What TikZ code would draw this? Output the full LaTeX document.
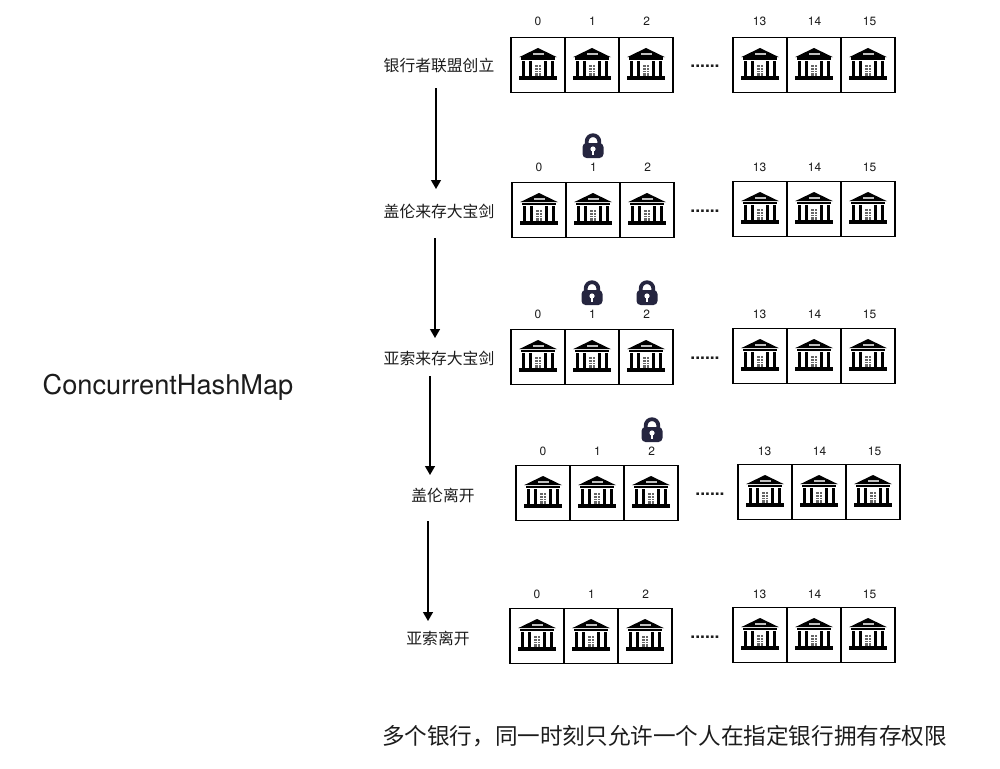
\documentclass[tikz,border=0pt]{standalone}
\usepackage{fontspec}
\usetikzlibrary{arrows.meta}
\setmainfont{TeX Gyre Heros}
\newfontfamily\cjk{Noto Sans CJK SC}
\definecolor{lockblue}{HTML}{25253F}
\definecolor{txt}{HTML}{1C1C1C}
\tikzset{
  x=1pt,y=-1pt,
  cellbox/.style={draw=black,line width=1.3pt,minimum width=54pt,minimum height=55pt,inner sep=0pt,anchor=center},
  idx/.style={font=\fontsize{12}{12}\selectfont,text=txt,inner sep=0pt,anchor=base},
  steplabel/.style={font=\cjk\fontsize{15.8}{17}\selectfont,text=txt,inner sep=1pt},
  flow/.style={draw=black,line width=1.3pt,-{Triangle[length=9pt,width=10pt]}},
  dotrow/.style={font=\fontsize{17.5}{15}\selectfont\bfseries,text=txt,inner sep=0pt,anchor=base},
  pics/bank/.style={code={
    \fill[black] (-19,-6.8) -- (0,-16) -- (19,-6.8) -- cycle;
    \fill[white!75!black] (-5.5,-11) rectangle (5.5,-9);
    \fill[black] (-17,-6.5) rectangle (17,-4);
    \foreach \c in {-14.5,-7.5,7.5,14.5} {\fill[black] (\c-1.8,-3.5) rectangle (\c+1.8,12);}
    \fill[black!60] (-3.4,1) rectangle (3.4,12);
    \foreach \yy in {3.5,6,8.5} {\draw[white,line width=.4pt] (-3.4,\yy) -- (3.4,\yy);}
    \draw[white,line width=.4pt] (0,1) -- (0,12);
    \fill[black] (-19,12) rectangle (19,15.5);
  }},
  pics/padlock/.style={code={
    \draw[lockblue,line width=3.8pt] (-6.3,0) -- (-6.3,-4.5) arc[start angle=180,end angle=360,radius=6.3] -- (6.3,0);
    \fill[lockblue,rounded corners=4pt] (-10.5,-3) rectangle (10.5,12);
    \fill[white] (0,3) circle (2.6);
    \fill[white] (-1.2,3.5) rectangle (1.2,8.5);
  }},
}
% #1 row name, #2 left x, #3 box y, #4 right x, #5 right box y, #6 index y, #7 dots y
\newcommand{\bankrow}[7]{%
  \foreach \n/\lab/\i in {a/0/0,b/1/1,c/2/2} {
    \node[cellbox] (#1\n) at ({#2+27+54*\i},#3) {};
    \pic at ({#2+27+54*\i},{#3-1}) {bank};
    \node[idx] (#1\n i) at ({#2+27+54.4*\i},{#6+4.5}) {\lab};
  }
  \foreach \n/\lab/\i in {d/13/0,e/14/1,f/15/2} {
    \node[cellbox] (#1\n) at ({#4+27+54*\i},#5) {};
    \pic at ({#4+27+54*\i},{#5-1}) {bank};
    \node[idx] (#1\n i) at ({#4+26.5+55*\i},{#6+4.5}) {\lab};
  }
  \node[dotrow] (#1dots) at ({#4-28},#7) {......};
}
\begin{document}
\begin{tikzpicture}
\useasboundingbox (0,0) rectangle (1000,768);
\bankrow{ra}{511}{65}{733}{65}{21}{67}
\bankrow{rb}{512}{210}{733}{209}{167}{212}
\bankrow{rc}{511}{357}{733}{356}{314}{359}
\bankrow{rd}{516}{493}{738}{492}{451}{495}
\bankrow{re}{510}{636}{733}{635}{594}{638}

\pic at (593,146) {padlock};
\pic at (592,293) {padlock};
\pic at (647,293) {padlock};
\pic at (652,430) {padlock};

\node[steplabel] (la) at (439,66) {银行者联盟创立};
\node[steplabel] (lb) at (439,211) {盖伦来存大宝剑};
\node[steplabel] (lc) at (439,358) {亚索来存大宝剑};
\node[steplabel] (ld) at (443,495) {盖伦离开};
\node[steplabel] (le) at (438,638) {亚索离开};

\coordinate (sa) at (436,88);  \coordinate (ea) at (436,189);
\coordinate (sb) at (435,238); \coordinate (eb) at (435,338);
\coordinate (sc) at (430,376); \coordinate (ec) at (430,475);
\coordinate (sd) at (428,521); \coordinate (ed) at (428,621);
\draw[flow] (sa) -- (ea);
\draw[flow] (sb) -- (eb);
\draw[flow] (sc) -- (ec);
\draw[flow] (sd) -- (ed);

\node[inner sep=0pt,text=txt,font=\fontsize{27.2}{27}\selectfont] (title) at (168,387) {ConcurrentHashMap};
\node[inner sep=0pt,text=txt,font=\cjk\fontsize{22.6}{24}\selectfont] (note) at (664.5,736) {多个银行，同一时刻只允许一个人在指定银行拥有存权限};
\end{tikzpicture}
\end{document}
